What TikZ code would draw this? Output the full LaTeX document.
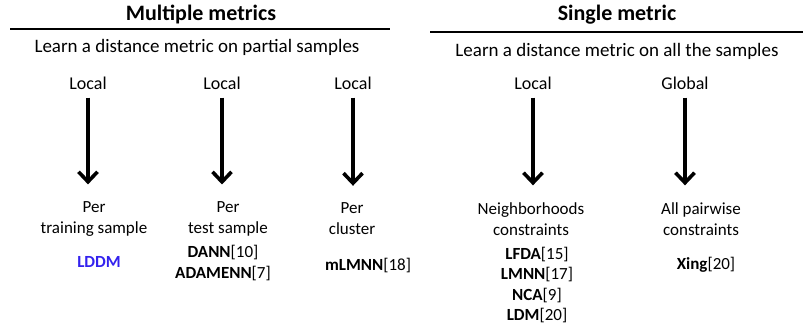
\documentclass[tikz,border=0pt]{standalone}
\usepackage{fontspec}
\setmainfont{Carlito}
\usetikzlibrary{arrows.meta}
\definecolor{lddmblue}{RGB}{51, 34, 238}

\begin{document}
\begin{tikzpicture}[x=1pt, y=-1pt,
        title/.style={font=\fontsize{22}{26}\selectfont\bfseries, inner sep=0pt},
        subtitle/.style={font=\fontsize{19}{23}\selectfont, inner sep=0pt},
        kind/.style={font=\fontsize{18}{22}\selectfont, inner sep=0pt},
        descr/.style={font=\fontsize{17}{21}\selectfont, align=center, inner sep=0pt},
        method/.style={font=\fontsize{17}{20.5}\selectfont, align=center, inner sep=0pt},
        rule/.style={line width=2.2pt},
        downarrow/.style={line width=3.6pt, -{Straight Barb[length=10pt, width=19pt]},
                          shorten <=8pt, shorten >=17pt}]
            \useasboundingbox (0, 0) rectangle (803, 327);
            % Multiple metrics
            \node[title]    (multi)   at (201, 14) {Multiple metrics};
            \draw[rule]               ( 10, 29) -- (390, 29);
            \node[subtitle] (partial) at (197, 47) {Learn a distance metric on partial samples};
            \node[kind]     (loca)    at ( 88, 83) {Local};
            \node[kind]     (locb)    at (222, 83) {Local};
            \node[kind]     (locc)    at (353, 83) {Local};
            \node[descr]    (pera)    at ( 94, 219) {Per\\training sample};
            \node[descr]    (perb)    at (228, 219) {Per\\test sample};
            \node[descr]    (perc)    at (352, 219) {Per\\cluster};
            \node[method, text=lddmblue] (lddm) at ( 99, 262) {\bfseries LDDM};
            \node[method]   (dann)    at (223, 263) {\textbf{DANN}[10]\\\textbf{ADAMENN}[7]};
            \node[method]   (mlmnn)   at (368, 266) {\textbf{mLMNN}[18]};
            % Single metric
            \node[title]    (single)  at (617, 15) {Single metric};
            \draw[rule]               (430, 32) -- (803, 32);
            \node[subtitle] (allsmp)  at (617, 51) {Learn a distance metric on all the samples};
            \node[kind]     (locd)    at (533, 83) {Local};
            \node[kind]     (glob)    at (685, 83) {Global};
            \node[descr]    (perd)    at (531, 219) {Neighborhoods\\constraints};
            \node[descr]    (pere)    at (701, 219) {All pairwise\\constraints};
            \node[method]   (lfda)    at (537, 285) {\textbf{LFDA}[15]\\\textbf{LMNN}[17]\\\textbf{NCA}[9]\\\textbf{LDM}[20]};
            \node[method]   (xing)    at (706, 265) {\textbf{Xing}[20]};
            % Arrows
            \draw[downarrow] (loca.south) -- (loca.south |- pera.north);
            \draw[downarrow] (locb.south) -- (locb.south |- perb.north);
            \draw[downarrow] (locc.south) -- (locc.south |- perc.north);
            \draw[downarrow] (locd.south) -- (locd.south |- perd.north);
            \draw[downarrow] (glob.south) -- (glob.south |- pere.north);
        \end{tikzpicture}
\end{document}
